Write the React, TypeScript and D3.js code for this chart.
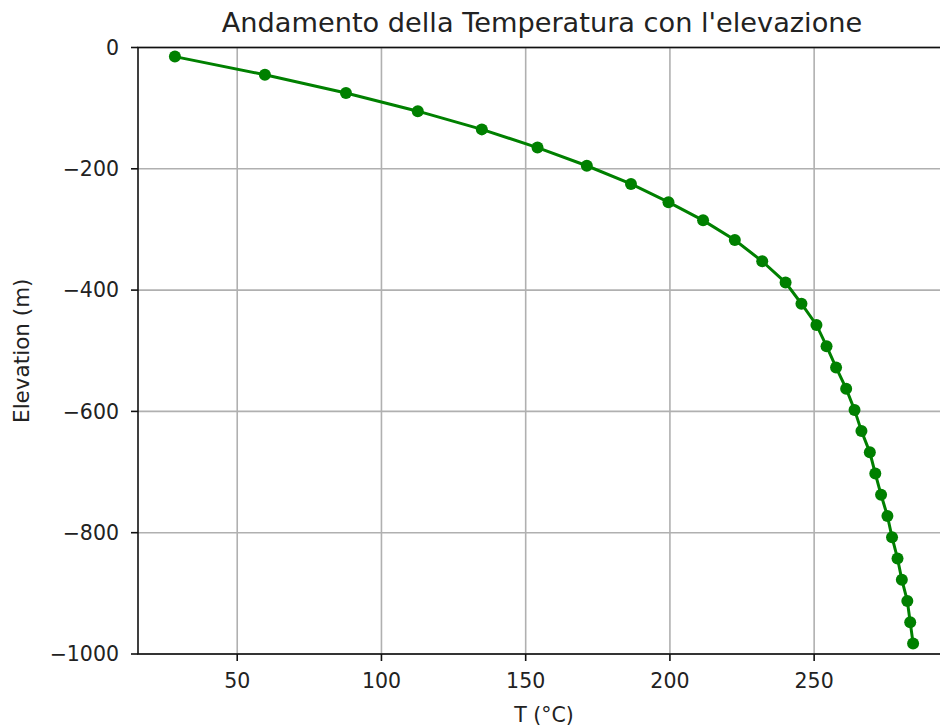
import React from "react";
import * as d3 from "d3";

// Cell-centre elevations (m): 10 cells of 30 m, then 20 cells of 35 m
const elevations: number[] = [
  -15, -45, -75, -105, -135, -165, -195, -225, -255, -285,
  -317.5, -352.5, -387.5, -422.5, -457.5, -492.5, -527.5, -562.5, -597.5, -632.5,
  -667.5, -702.5, -737.5, -772.5, -807.5, -842.5, -877.5, -912.5, -947.5, -982.5,
];

// Temperature at each elevation (°C)
const temperatures: number[] = [
  28.4, 59.6, 87.7, 112.6, 134.8, 154.1, 171.2, 186.5, 199.5, 211.5,
  222.5, 232.0, 240.1, 245.6, 250.8, 254.3, 257.6, 261.1, 264.0, 266.4,
  269.3, 271.2, 273.2, 275.4, 277.0, 278.9, 280.4, 282.3, 283.3, 284.3,
];

const xTicks: number[] = [50, 100, 150, 200, 250];
const yTicks: number[] = [0, -200, -400, -600, -800, -1000];

const title = "Andamento della Temperatura con l'elevazione";
const xLabel = "T (°C)";
const yLabel = "Elevation (m)";

const W = 940;
const H = 728;
const margin = { left: 138, top: 47.5, right: 950, bottom: 654 };

const FONT = "'DejaVu Sans', sans-serif";

const fmt = (v: number) => (v < 0 ? "\u2212" + Math.abs(v) : String(v));

export default function App() {
  const tMin = d3.min(temperatures)!;
  const tMax = d3.max(temperatures)!;
  const pad = (tMax - tMin) * 0.05;

  const x = d3.scaleLinear().domain([tMin - pad, tMax + pad]).range([margin.left, margin.right]);
  const y = d3.scaleLinear().domain([-1000, 0]).range([margin.bottom, margin.top]);

  const pts = temperatures.map((t, i) => [t, elevations[i]] as [number, number]);
  const line = d3.line<[number, number]>().x((d) => x(d[0])).y((d) => y(d[1]));

  const green = "#008000";
  const gridColor = "#b0b0b0";
  const tickColor = "#222";

  return (
    <div style={{ position: "fixed", left: 0, top: 0 }}>
      <svg width={W} height={H} style={{ display: "block", background: "#fff" }}>
        <defs>
          <clipPath id="plotArea">
            <rect x={margin.left} y={margin.top} width={margin.right - margin.left} height={margin.bottom - margin.top} />
          </clipPath>
        </defs>

        {/* grid */}
        {xTicks.map((t) => (
          <line key={"gx" + t} x1={x(t)} x2={x(t)} y1={margin.top} y2={margin.bottom} stroke={gridColor} strokeWidth={1.6} />
        ))}
        {yTicks.map((t) => (
          <line key={"gy" + t} x1={margin.left} x2={margin.right} y1={y(t)} y2={y(t)} stroke={gridColor} strokeWidth={1.6} />
        ))}

        {/* series */}
        <g clipPath="url(#plotArea)">
          <path d={line(pts) || ""} fill="none" stroke={green} strokeWidth={3} />
          {pts.map((p, i) => (
            <circle key={i} cx={x(p[0])} cy={y(p[1])} r={6} fill={green} />
          ))}
        </g>

        {/* spines */}
        <rect
          x={margin.left}
          y={margin.top}
          width={margin.right - margin.left}
          height={margin.bottom - margin.top}
          fill="none"
          stroke="#111"
          strokeWidth={1.6}
        />

        {/* x ticks */}
        {xTicks.map((t) => (
          <g key={"xt" + t}>
            <line x1={x(t)} x2={x(t)} y1={margin.bottom} y2={margin.bottom + 7} stroke="#111" strokeWidth={1.6} />
            <text x={x(t)} y={margin.bottom + 34} textAnchor="middle" fontFamily={FONT} fontSize={20.5} fill={tickColor}>
              {fmt(t)}
            </text>
          </g>
        ))}

        {/* y ticks */}
        {yTicks.map((t) => (
          <g key={"yt" + t}>
            <line x1={margin.left - 7} x2={margin.left} y1={y(t)} y2={y(t)} stroke="#111" strokeWidth={1.6} />
            <text x={margin.left - 19} y={y(t)} dy="0.36em" textAnchor="end" fontFamily={FONT} fontSize={20.5} fill={tickColor}>
              {fmt(t)}
            </text>
          </g>
        ))}

        {/* labels */}
        <text x={(margin.left + margin.right) / 2} y={722} textAnchor="middle" fontFamily={FONT} fontSize={20.5} fill={tickColor}>
          {xLabel}
        </text>
        <text
          transform={`translate(29, ${(margin.top + margin.bottom) / 2}) rotate(-90)`}
          textAnchor="middle"
          fontFamily={FONT}
          fontSize={21.5}
          fill={tickColor}
        >
          {yLabel}
        </text>
        <text x={(margin.left + margin.right) / 2 - 2} y={32} textAnchor="middle" fontFamily={FONT} fontSize={27.2} fill={tickColor}>
          {title}
        </text>
      </svg>
    </div>
  );
}
